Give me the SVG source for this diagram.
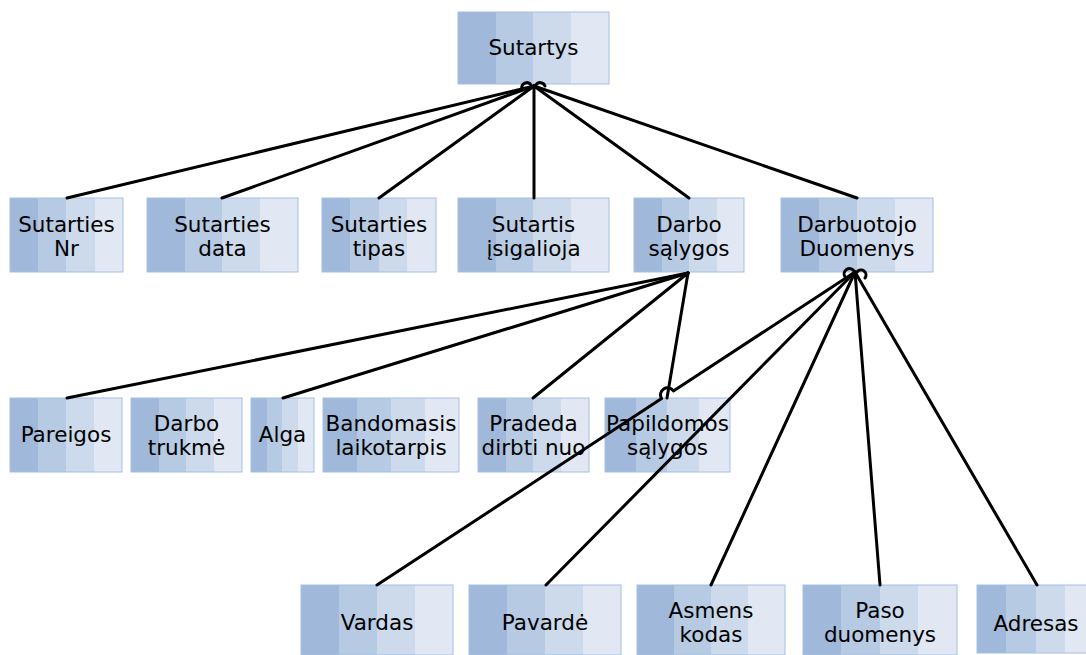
<svg xmlns="http://www.w3.org/2000/svg" width="1086" height="655" viewBox="0 0 1086 655">
<defs>
<linearGradient id="bands" x1="0" y1="0" x2="1" y2="0">
<stop offset="0" stop-color="#a0b9da"/><stop offset="0.25" stop-color="#a0b9da"/>
<stop offset="0.25" stop-color="#b6cae3"/><stop offset="0.5" stop-color="#b6cae3"/>
<stop offset="0.5" stop-color="#ccdaeb"/><stop offset="0.75" stop-color="#ccdaeb"/>
<stop offset="0.75" stop-color="#e1e8f3"/><stop offset="1" stop-color="#e1e8f3"/>
</linearGradient>
</defs>
<style>
.box{fill:url(#bands);stroke:#a3c0e3;stroke-width:1}
.t{font-family:"DejaVu Sans","Liberation Sans",sans-serif;font-size:21.5px;fill:#000;text-anchor:middle}
.c{fill:none;stroke:#000;stroke-width:3;stroke-linecap:round;stroke-linejoin:round}
</style>
<rect width="1086" height="655" fill="#fff"/>
<g id="nodes">
<g id="n-sutartys"><rect class="box" x="458" y="12" width="151" height="72"/><text class="t" x="533.5" y="55">Sutartys</text></g>
<g id="n-sutarties-nr"><rect class="box" x="10" y="198" width="113" height="74"/><text class="t" x="66.5" y="232">Sutarties</text><text class="t" x="66.5" y="256">Nr</text></g>
<g id="n-sutarties-data"><rect class="box" x="147" y="198" width="151" height="74"/><text class="t" x="222.5" y="232">Sutarties</text><text class="t" x="222.5" y="256">data</text></g>
<g id="n-sutarties-tipas"><rect class="box" x="322" y="198" width="114" height="74"/><text class="t" x="379" y="232">Sutarties</text><text class="t" x="379" y="256">tipas</text></g>
<g id="n-sutartis-isigalioja"><rect class="box" x="458" y="198" width="151" height="74"/><text class="t" x="533.5" y="232">Sutartis</text><text class="t" x="533.5" y="256">įsigalioja</text></g>
<g id="n-darbo-salygos"><rect class="box" x="634" y="198" width="110" height="74"/><text class="t" x="689" y="232">Darbo</text><text class="t" x="689" y="256">sąlygos</text></g>
<g id="n-darbuotojo-duomenys"><rect class="box" x="781" y="198" width="152" height="74"/><text class="t" x="857" y="232">Darbuotojo</text><text class="t" x="857" y="256">Duomenys</text></g>
<g id="n-pareigos"><rect class="box" x="10" y="398" width="112" height="74"/><text class="t" x="66" y="442">Pareigos</text></g>
<g id="n-darbo-trukme"><rect class="box" x="131" y="398" width="111" height="74"/><text class="t" x="186.5" y="431">Darbo</text><text class="t" x="186.5" y="455">trukmė</text></g>
<g id="n-alga"><rect class="box" x="251" y="398" width="63" height="74"/><text class="t" x="282.5" y="442">Alga</text></g>
<g id="n-bandomasis"><rect class="box" x="323" y="398" width="136" height="74"/><text class="t" x="391" y="431">Bandomasis</text><text class="t" x="391" y="455">laikotarpis</text></g>
<g id="n-pradeda"><rect class="box" x="478" y="398" width="111" height="74"/><text class="t" x="533.5" y="431">Pradeda</text><text class="t" x="533.5" y="455">dirbti nuo</text></g>
<g id="n-papildomos"><rect class="box" x="605" y="398" width="125" height="74"/><text class="t" x="667.5" y="431">Papildomos</text><text class="t" x="667.5" y="455">sąlygos</text></g>
<g id="n-vardas"><rect class="box" x="301" y="585" width="152" height="70"/><text class="t" x="377" y="630">Vardas</text></g>
<g id="n-pavarde"><rect class="box" x="469" y="585" width="152" height="70"/><text class="t" x="545" y="630">Pavardė</text></g>
<g id="n-asmens-kodas"><rect class="box" x="637" y="585" width="148" height="70"/><text class="t" x="711" y="618">Asmens</text><text class="t" x="711" y="642">kodas</text></g>
<g id="n-paso-duomenys"><rect class="box" x="803" y="585" width="154" height="70"/><text class="t" x="880" y="618">Paso</text><text class="t" x="880" y="642">duomenys</text></g>
<g id="n-adresas"><rect class="box" x="977" y="585" width="118" height="68"/><text class="t" x="1036" y="631">Adresas</text></g>
</g>
<g id="connectors">
<path class="c" d="M534,86 L67,198"/>
<path class="c" d="M534,86 L222,198"/>
<path class="c" d="M534,86 L379,198"/>
<path class="c" d="M534,86 L534,198"/>
<path class="c" d="M534,86 L689,198"/>
<path class="c" d="M534,86 L857,198"/>
<path class="c" d="M522,89 A5,5 0 0 1 531,85"/>
<path class="c" d="M536,85 A5,5 0 0 1 545,86"/>
<path class="c" d="M688,273 L67,398"/>
<path class="c" d="M688,273 L283,398"/>
<path class="c" d="M688,273 L533,398"/>
<path class="c" d="M688,273 L667,398"/>
<path class="c" d="M855,272 L673.4,391 A7,7 0 0 0 661.6,398.6 L377,585"/>
<path class="c" d="M855,272 L546,585"/>
<path class="c" d="M855,272 L711,585"/>
<path class="c" d="M855,272 L880,585"/>
<path class="c" d="M855,272 L1037,585"/>
<path class="c" d="M845,277 A5,5 0 0 1 854,271"/>
<path class="c" d="M857,272 A5,5 0 0 1 865,278"/>
</g>
</svg>
